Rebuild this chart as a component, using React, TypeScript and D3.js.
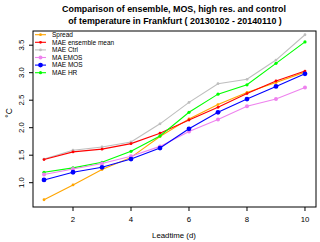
import * as d3 from 'd3';

const leadtime = [1, 2, 3, 4, 5, 6, 7, 8, 9, 10];
const spread = [0.69, 0.96, 1.24, 1.46, 1.84, 2.16, 2.42, 2.64, 2.82, 3.01];
const maeEnsMean = [1.42, 1.56, 1.61, 1.71, 1.9, 2.14, 2.37, 2.62, 2.85, 3.03];
const maeCtrl = [1.43, 1.59, 1.65, 1.74, 2.07, 2.46, 2.8, 2.88, 3.23, 3.69];
const maEmos = [1.15, 1.25, 1.35, 1.48, 1.66, 1.93, 2.15, 2.39, 2.52, 2.73];
const maeMos = [1.05, 1.19, 1.28, 1.43, 1.63, 1.98, 2.28, 2.52, 2.75, 2.98];
const maeHr = [1.19, 1.27, 1.37, 1.57, 1.85, 2.28, 2.61, 2.78, 3.17, 3.56];

const xTicks = [2, 4, 6, 8, 10];
const yTicks = [1.0, 1.5, 2.0, 2.5, 3.0, 3.5];

const legendNames = ['Spread', 'MAE ensemble mean', 'MAE Ctrl', 'MA EMOS', 'MAE MOS', 'MAE HR'];
const legendColors = ['#FFA500', '#FF0000', '#BEBEBE', '#EE82EE', '#0000FF', '#00FF00'];
const pointSizes = [1.4, 1.4, 1.4, 2, 2.4, 1.6];

const series = [spread, maeEnsMean, maeCtrl, maEmos, maeMos, maeHr];
// drawing order: ctrl first so the ensemble mean sits on top of it
const drawOrder = [2, 0, 1, 5, 3, 4];

export default function App() {
  const W = 320, H = 242;
  const left = 33, right = 316, top = 31, bottom = 207;
  const x = d3.scaleLinear().domain([0.62, 10.38]).range([left, right]);
  const y = d3.scaleLinear().domain([0.558, 3.758]).range([bottom, top]);
  const line = d3.line<number>().x((_, i) => x(leadtime[i])).y((d) => y(d));
  const font = 'Liberation Sans, Arial, sans-serif';

  return (
    <svg width={W} height={H} style={{ position: 'absolute', left: 0, top: 0, background: '#fff' }} fontFamily={font}>
      <text x={174} y={12} textAnchor="middle" fontSize={8.9} fontWeight="bold">
        Comparison of ensemble, MOS, high res. and control
      </text>
      <text x={175} y={24} textAnchor="middle" fontSize={8.9} fontWeight="bold">
        of temperature in Frankfurt ( 20130102 - 20140110 )
      </text>

      {drawOrder.map((k) => (
        <g key={k}>
          <path d={line(series[k]) ?? ''} fill="none" stroke={legendColors[k]} strokeWidth={1.1} />
          {series[k].map((v, i) => (
            <circle key={i} cx={x(leadtime[i])} cy={y(v)} r={pointSizes[k]} fill={legendColors[k]} />
          ))}
        </g>
      ))}

      <rect x={left} y={top} width={right - left} height={bottom - top} fill="none" stroke="#000" strokeWidth={1} />

      {xTicks.map((t) => (
        <g key={t}>
          <line x1={x(t)} x2={x(t)} y1={bottom} y2={bottom + 4} stroke="#000" />
          <text x={x(t)} y={222} textAnchor="middle" fontSize={7.8}>{t}</text>
        </g>
      ))}
      {yTicks.map((t) => (
        <g key={t}>
          <line x1={left - 4} x2={left} y1={y(t)} y2={y(t)} stroke="#000" />
          <text transform={`translate(24,${y(t)}) rotate(-90)`} textAnchor="middle" fontSize={7.8}>{t.toFixed(1)}</text>
        </g>
      ))}

      <text x={174} y={238} textAnchor="middle" fontSize={7.8}>Leadtime (d)</text>
      <text transform={`translate(12,113) rotate(-90)`} textAnchor="middle" fontSize={8.5}>°C</text>

      {legendNames.map((n, i) => {
        const ly = 34.7 + i * 7.6;
        return (
          <g key={n}>
            <line x1={35} x2={46} y1={ly} y2={ly} stroke={legendColors[i]} strokeWidth={1.1} />
            <circle cx={40.5} cy={ly} r={pointSizes[i]} fill={legendColors[i]} />
            <text x={52} y={ly + 2.3} fontSize={6.5}>{n}</text>
          </g>
        );
      })}
    </svg>
  );
}
